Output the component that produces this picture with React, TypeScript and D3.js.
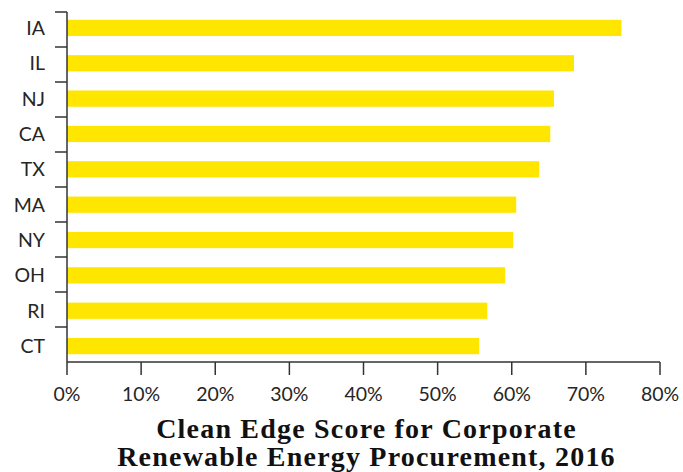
import * as d3 from "d3";
import React, { useEffect, useRef } from "react";

const states = ["IA", "IL", "NJ", "CA", "TX", "MA", "NY", "OH", "RI", "CT"];
const scores = [74.8, 68.4, 65.7, 65.2, 63.7, 60.6, 60.2, 59.1, 56.7, 55.6];
const xTicks = [0, 10, 20, 30, 40, 50, 60, 70, 80];
const titleLines = ["Clean Edge Score for Corporate", "Renewable Energy Procurement, 2016"];

const App = () => {
  const svgRef = useRef<SVGSVGElement>(null);

  useEffect(() => {
    const width = 683;
    const height = 472;
    const margin = { left: 67, right: 23, top: 12, bottom: 110 };

    const svg = d3.select(svgRef.current);
    svg.selectAll("*").remove();
    svg.attr("width", width).attr("height", height);

    const x = d3
      .scaleLinear()
      .domain([0, 80])
      .range([margin.left, width - margin.right]);
    const y = d3
      .scaleBand<string>()
      .domain(states)
      .range([margin.top, height - margin.bottom])
      .paddingInner(0.54)
      .paddingOuter(0.22);

    const axisColor = "#333333";
    const font = "Lato, 'Open Sans', sans-serif";

    // bars
    svg
      .selectAll("rect.bar")
      .data(states)
      .enter()
      .append("rect")
      .attr("class", "bar")
      .attr("x", x(0))
      .attr("y", (d) => y(d)!)
      .attr("width", (d, i) => x(scores[i]) - x(0))
      .attr("height", y.bandwidth())
      .attr("fill", "#FFE600");

    // y axis: line plus boundary ticks
    const y0 = margin.top;
    const y1 = height - margin.bottom;
    svg
      .append("line")
      .attr("x1", x(0))
      .attr("x2", x(0))
      .attr("y1", y0)
      .attr("y2", y1)
      .attr("stroke", axisColor)
      .attr("stroke-width", 1.5);

    const boundaries = states.map((d, i) => y0 + i * ((y1 - y0) / states.length));
    svg
      .selectAll("line.ytick")
      .data(boundaries)
      .enter()
      .append("line")
      .attr("class", "ytick")
      .attr("x1", x(0) - 12)
      .attr("x2", x(0))
      .attr("y1", (d) => d)
      .attr("y2", (d) => d)
      .attr("stroke", axisColor)
      .attr("stroke-width", 1.5);

    svg
      .selectAll("text.ylabel")
      .data(states)
      .enter()
      .append("text")
      .attr("class", "ylabel")
      .attr("x", x(0) - 22)
      .attr("y", (d) => y(d)! + y.bandwidth() / 2)
      .attr("dy", "0.36em")
      .attr("text-anchor", "end")
      .style("font-family", font)
      .style("font-size", "19.5px")
      .style("fill", "#262626")
      .text((d) => d);

    // x axis
    svg
      .append("line")
      .attr("x1", x(0))
      .attr("x2", x(80))
      .attr("y1", y1)
      .attr("y2", y1)
      .attr("stroke", axisColor)
      .attr("stroke-width", 1.5);

    svg
      .selectAll("line.xtick")
      .data(xTicks)
      .enter()
      .append("line")
      .attr("class", "xtick")
      .attr("x1", (d) => x(d))
      .attr("x2", (d) => x(d))
      .attr("y1", y1)
      .attr("y2", y1 + 13)
      .attr("stroke", axisColor)
      .attr("stroke-width", 1.5);

    svg
      .selectAll("text.xlabel")
      .data(xTicks)
      .enter()
      .append("text")
      .attr("class", "xlabel")
      .attr("x", (d) => x(d))
      .attr("y", y1 + 39)
      .attr("text-anchor", "middle")
      .style("font-family", font)
      .style("font-size", "19.5px")
      .style("fill", "#262626")
      .text((d) => `${d}%`);

    // title
    svg
      .selectAll("text.title")
      .data(titleLines)
      .enter()
      .append("text")
      .attr("class", "title")
      .attr("x", (x(0) + x(80)) / 2 + 3)
      .attr("y", (d, i) => 438 + i * 28)
      .attr("text-anchor", "middle")
      .style("font-family", "'Liberation Serif', serif")
      .style("font-weight", "bold")
      .style("font-size", "28px")
      .style("letter-spacing", "1.2px")
      .style("fill", "#111")
      .text((d) => d);
  }, []);

  return (
    <svg
      ref={svgRef}
      style={{ position: "absolute", left: 0, top: 0, display: "block" }}
    ></svg>
  );
};

export default App;
